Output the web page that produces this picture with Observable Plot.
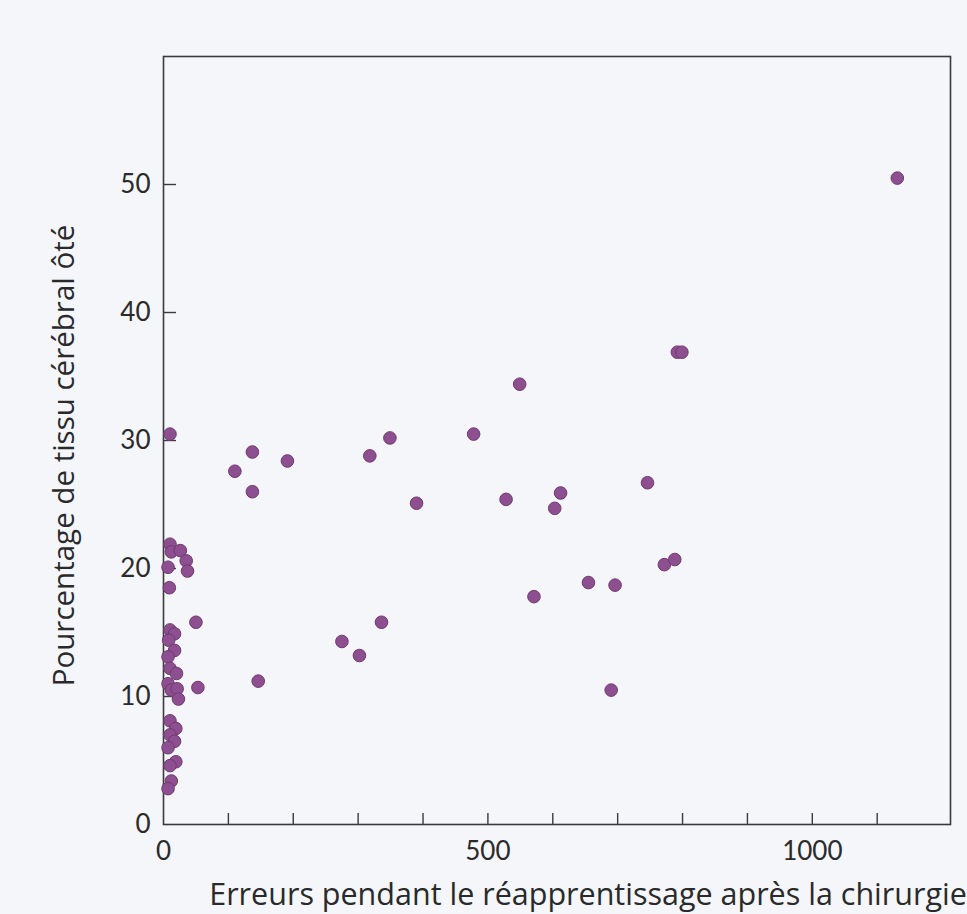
<!DOCTYPE html>
<html>
<head>
<meta charset="utf-8">
<script src="https://cdn.jsdelivr.net/npm/d3@7"></script>
<script src="https://cdn.jsdelivr.net/npm/@observablehq/plot@0.6"></script>
<style>
  html, body { margin: 0; padding: 0; background: #f4f6fa; }
  #chart svg { display: block; }
</style>
</head>
<body>
<div id="chart"></div>
<script>
// Errors during relearning after surgery (x) vs % of brain tissue removed (y)
const errors = [
  10, 10, 12, 26, 35, 37, 7, 9,
  10, 17, 8, 17, 7, 10, 20, 7, 12, 21, 23,
  10, 19, 10, 17, 7, 19, 10, 12, 7,
  50, 53,
  110, 137, 137, 191, 146,
  275, 302, 318, 336, 349, 390, 478, 528, 549, 571, 603, 612,
  655, 690, 696, 746, 772, 788, 792, 799, 1131
];
const tissue = [
  30.5, 21.9, 21.3, 21.4, 20.6, 19.8, 20.1, 18.5,
  15.2, 14.9, 14.4, 13.6, 13.1, 12.2, 11.8, 11.0, 10.5, 10.6, 9.8,
  8.1, 7.5, 7.0, 6.5, 6.0, 4.9, 4.6, 3.4, 2.8,
  15.8, 10.7,
  27.6, 29.1, 26.0, 28.4, 11.2,
  14.3, 13.2, 28.8, 15.8, 30.2, 25.1, 30.5, 25.4, 34.4, 17.8, 24.7, 25.9,
  18.9, 10.5, 18.7, 26.7, 20.3, 20.7, 36.9, 36.9, 50.5
];
const xTickLabels = [0, 500, 1000];
const xMinorTicks = [100, 200, 300, 400, 500, 600, 700, 800, 900, 1000, 1100];
const yTickLabels = [0, 10, 20, 30, 40, 50];
const yMinorTicks = [10, 20, 30, 40, 50];
const xTitle = "Erreurs pendant le réapprentissage après la chirurgie";
const yTitle = "Pourcentage de tissu cérébral ôté";

const data = errors.map((e, i) => ({errors: e, tissue: tissue[i]}));

const chart = Plot.plot({
  width: 967,
  height: 914,
  marginLeft: 163,
  marginTop: 56,
  marginRight: 17,
  marginBottom: 90,
  style: {background: "#f4f6fa", fontFamily: "Lato, 'Open Sans', sans-serif", color: "#2a2a2a"},
  x: {domain: [0, 1213], label: null},
  y: {domain: [0, 60], label: null},
  marks: [
    Plot.frame({stroke: "#3a3a3a", strokeWidth: 1.6}),
    Plot.axisX({ticks: xMinorTicks, tickSize: -11, tickFormat: () => "", label: null, stroke: "#3a3a3a", strokeWidth: 1.4}),
    Plot.axisX({ticks: xTickLabels, tickSize: 0, tickPadding: 17, fontSize: 26, label: null, tickFormat: d3.format("d")}),
    Plot.axisY({ticks: yMinorTicks, tickSize: -13, tickFormat: () => "", label: null, stroke: "#3a3a3a", strokeWidth: 1.4}),
    Plot.axisY({ticks: yTickLabels, tickSize: 0, tickPadding: 13, fontSize: 26, label: null, tickFormat: d3.format("d")}),
    Plot.dot(data, {x: "errors", y: "tissue", r: 6.3, fill: "#8d4f8f", stroke: "#6f3a72", strokeWidth: 1}),
    Plot.text([xTitle], {frameAnchor: "bottom", textAnchor: "middle", lineAnchor: "middle", dx: 31, dy: 71, fontSize: 30.5, fontFamily: "'Open Sans', Lato, sans-serif", fill: "#2a2a2a"}),
    Plot.text([yTitle], {frameAnchor: "left", textAnchor: "middle", lineAnchor: "middle", dx: -99, dy: 15, rotate: -90, fontSize: 29.5, fontFamily: "'Open Sans', Lato, sans-serif", fill: "#2a2a2a"})
  ]
});
document.getElementById("chart").appendChild(chart);
</script>
</body>
</html>
